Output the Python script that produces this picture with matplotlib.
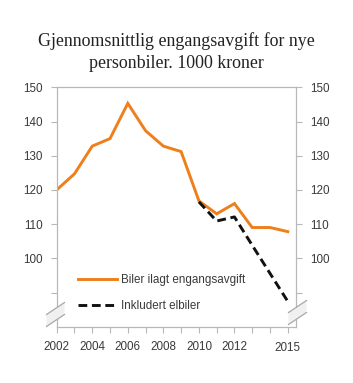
import matplotlib
matplotlib.use("Agg")
import matplotlib.pyplot as plt
from matplotlib.patches import Polygon
from matplotlib.lines import Line2D

years = [2002, 2003, 2004, 2005, 2006, 2007, 2008, 2009, 2010, 2011, 2012, 2013, 2014, 2015]
biler_ilagt = [120, 124.7, 132.8, 135, 145.3, 137.3, 132.8, 131.2, 116.8, 113, 116, 109, 109, 107.8]
elbil_years = [2010, 2011, 2012, 2013, 2014, 2015]
inkl_elbiler = [116.5, 110.9, 112.1, 103.8, 95.6, 87.4]
xtick_labels = ["2002", "2004", "2006", "2008", "2010", "2012", "2015"]
ytick_vals = [90, 100, 110, 120, 130, 140, 150]
ytick_labels = ["", "100", "110", "120", "130", "140", "150"]

W, H = 353, 383
fig = plt.figure(figsize=(W / 100, H / 100), dpi=100)
L, R, T, B = 56.7, 296.3, 87.3, 326.7
ax = fig.add_axes([L / W, 1 - B / H, (R - L) / W, (B - T) / H])

orange = "#EE7F1A"
tc = "#3a3a3a"
sc = "#b8b8b8"
ax.plot(years, biler_ilagt, color=orange, lw=2.1, solid_joinstyle="miter",
        label="Biler ilagt engangsavgift")
ax.plot(elbil_years, inkl_elbiler, color="#111111", lw=2.1, ls=(0, (3, 1.6)),
        label="Inkludert elbiler")

ax.set_xlim(2002, 2015.48)
ax.set_ylim(80, 150)
ax.set_xticks(years)
lab = {int(t): t for t in xtick_labels}
ax.set_xticklabels([lab.get(y, "") for y in years])
ax.set_yticks(ytick_vals)
ax.set_yticklabels(ytick_labels)
ax.tick_params(axis="y", left=True, right=True, labelleft=True, labelright=True,
               direction="out", length=4, width=0.8, color=sc, labelsize=8.4,
               labelcolor=tc, pad=6)
ax.tick_params(axis="x", direction="out", length=4, width=0.8, color=sc,
               labelsize=8.4, labelcolor=tc, pad=6)
for lbl in ax.get_xticklabels():
    lbl.set_fontfamily("Liberation Sans")
    if lbl.get_text() == "2015":
        lbl.set_y(-0.006)
for lbl in ax.get_yticklabels():
    lbl.set_fontfamily("Liberation Sans")
for s in ax.spines.values():
    s.set_color(sc)
    s.set_linewidth(0.9)

fig.text(0.5, 1 - 52 / H, "Gjennomsnittlig engangsavgift for nye\npersonbiler. 1000 kroner",
         ha="center", va="center", fontsize=12.9, family="Liberation Serif",
         color="#222222", linespacing=1.42)

leg = ax.legend(loc="upper left", bbox_to_anchor=(78 / W, 1 - 274.5 / H),
                bbox_transform=fig.transFigure, frameon=False, borderpad=0,
                borderaxespad=0, handlelength=3.3, handletextpad=0.4,
                labelspacing=1.15, prop={"family": "Liberation Sans", "size": 8.4})
for t in leg.get_texts():
    t.set_color(tc)

# axis break marks
def fx(px):
    return px / W

def fy(py):
    return 1 - py / H

for cx, yu, yl in [(55.5, 308.5, 320.5), (297.5, 306.5, 318.5)]:
    dx, dy = 9.0, 6.0
    poly = Polygon([(fx(cx - dx), fy(yu + dy)), (fx(cx + dx), fy(yu - dy)),
                    (fx(cx + dx), fy(yl - dy)), (fx(cx - dx), fy(yl + dy))],
                   closed=True, transform=fig.transFigure, facecolor="#f0f0f0",
                   edgecolor="none", zorder=5)
    fig.add_artist(poly)
    for yc in (yu, yl):
        fig.add_artist(Line2D([fx(cx - dx), fx(cx + dx)], [fy(yc + dy), fy(yc - dy)],
                              transform=fig.transFigure, color="#a8a8a8", lw=0.9, zorder=6))

fig.savefig("out.png", dpi=100)
